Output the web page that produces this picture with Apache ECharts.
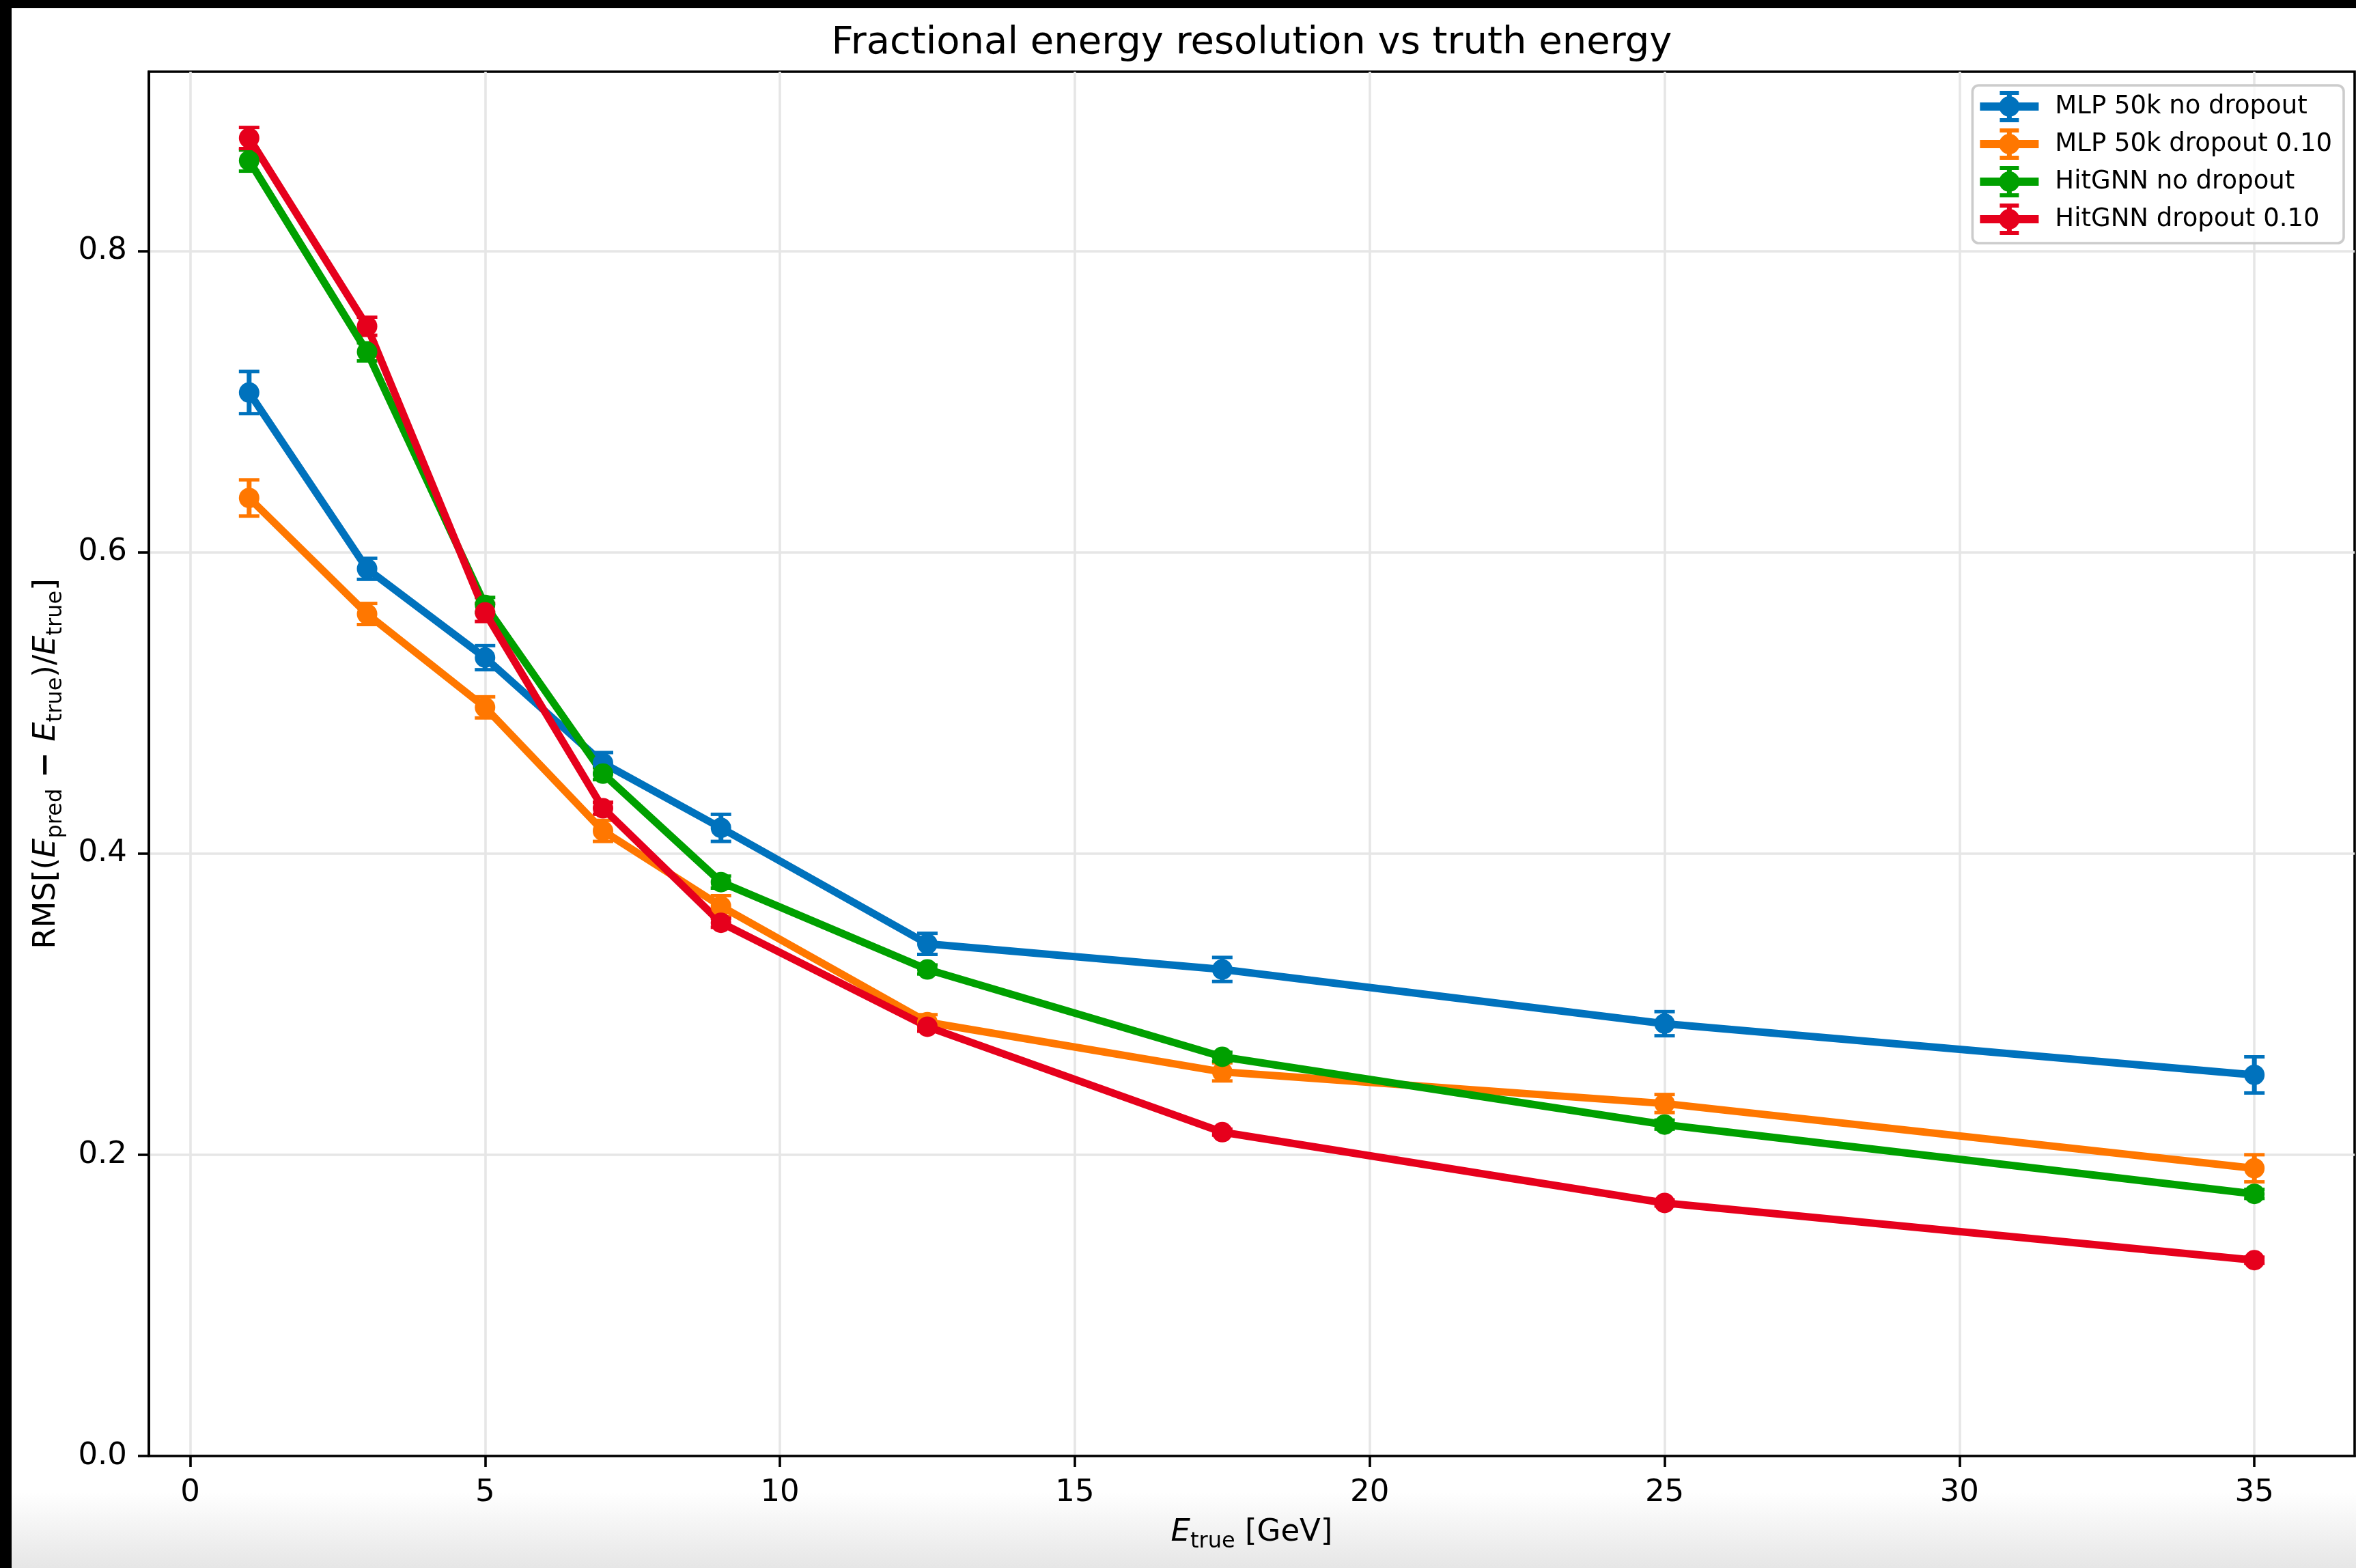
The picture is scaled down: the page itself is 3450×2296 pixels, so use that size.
<!DOCTYPE html>
<html lang="en">
<head>
    <meta charset="UTF-8">
    <title>Fractional energy resolution vs truth energy</title>
    <script src="https://cdn.jsdelivr.net/npm/echarts@6.0.0/dist/echarts.min.js"></script>
    <style>
        html, body { margin: 0; padding: 0; background: #fff; }
        #chart { width: 3450px; height: 2296px; }
    </style>
</head>
<body>
<div id="chart"></div>
<script>
    // truth energy bins (GeV)
    var energies = [1, 3, 5, 7, 9, 12.5, 17.5, 25, 35];

    var seriesNames = ['MLP 50k no dropout', 'MLP 50k dropout 0.10', 'HitGNN no dropout', 'HitGNN dropout 0.10'];
    var seriesColors = ['#0072bd', '#ff7700', '#00a000', '#e6001c'];

    // RMS values
    var mlpNoDrop = [0.706, 0.589, 0.530, 0.460, 0.417, 0.340, 0.323, 0.287, 0.253];
    var mlpDrop   = [0.636, 0.559, 0.497, 0.415, 0.365, 0.288, 0.255, 0.234, 0.191];
    var gnnNoDrop = [0.860, 0.733, 0.565, 0.453, 0.381, 0.323, 0.265, 0.220, 0.174];
    var gnnDrop   = [0.875, 0.750, 0.560, 0.430, 0.354, 0.285, 0.215, 0.168, 0.130];

    // half length of the error bars
    var mlpNoDropErr = [0.014, 0.007, 0.008, 0.007, 0.009, 0.007, 0.008, 0.008, 0.012];
    var mlpDropErr   = [0.012, 0.007, 0.007, 0.007, 0.007, 0.005, 0.006, 0.006, 0.009];
    var gnnNoDropErr = [0.007, 0.006, 0.005, 0.004, 0.004, 0.003, 0.003, 0.003, 0.003];
    var gnnDropErr   = [0.007, 0.006, 0.006, 0.004, 0.003, 0.003, 0.002, 0.002, 0.002];

    var xTicks = [0, 5, 10, 15, 20, 25, 30, 35];
    var yTicks = [0, 0.2, 0.4, 0.6, 0.8];

    var values = [mlpNoDrop, mlpDrop, gnnNoDrop, gnnDrop];
    var errors = [mlpNoDropErr, mlpDropErr, gnnNoDropErr, gnnDropErr];

    var FONT = 'DejaVu Sans';

    // legend handle: line + marker + error bar with caps (86 x 46 box)
    var errIcon = 'path://M0,17h86v12h-86Z' +
        'M28,23A15,15 0 1,1 58,23A15,15 0 1,1 28,23Z' +
        'M39.5,0h7v46h-7Z' +
        'M29,0h28v6h-28Z' +
        'M29,40h28v6h-28Z';

    function errorBarItem(params, api) {
        var x = api.value(0);
        var top = api.coord([x, api.value(2)]);
        var bot = api.coord([x, api.value(1)]);
        var color = api.visual('color');
        var half = 15;
        return {
            type: 'group',
            children: [
                { type: 'line', shape: { x1: top[0], y1: top[1], x2: bot[0], y2: bot[1] },
                  style: { stroke: color, lineWidth: 7 } },
                { type: 'line', shape: { x1: top[0] - half, y1: top[1], x2: top[0] + half, y2: top[1] },
                  style: { stroke: color, lineWidth: 5 } },
                { type: 'line', shape: { x1: bot[0] - half, y1: bot[1], x2: bot[0] + half, y2: bot[1] },
                  style: { stroke: color, lineWidth: 5 } }
            ]
        };
    }

    var series = [];
    for (var s = 0; s < seriesNames.length; s++) {
        var vals = values[s], errs = errors[s];
        series.push({
            name: 'err' + s,
            type: 'custom',
            renderItem: errorBarItem,
            itemStyle: { color: seriesColors[s] },
            encode: { x: 0, y: [1, 2] },
            data: energies.map(function (e, i) { return [e, vals[i] - errs[i], vals[i] + errs[i]]; }),
            silent: true
        });
        series.push({
            name: seriesNames[s],
            type: 'line',
            color: seriesColors[s],
            symbol: 'circle',
            symbolSize: 30,
            showSymbol: true,
            showAllSymbol: true,
            lineStyle: { width: 11, color: seriesColors[s] },
            itemStyle: { color: seriesColors[s], borderWidth: 0 },
            data: energies.map(function (e, i) { return [e, vals[i]]; })
        });
    }

    var subRich = {
        n: { fontFamily: FONT, fontSize: 45, lineHeight: 60, color: '#000' },
        e: { fontFamily: FONT, fontSize: 45, lineHeight: 60, fontStyle: 'italic', color: '#000' },
        sub: { fontFamily: FONT, fontSize: 32, lineHeight: 32, verticalAlign: 'bottom', color: '#000' },
        op: { fontFamily: FONT, fontSize: 45, lineHeight: 60, fontWeight: 'bold', color: '#000' }
    };

    var spine = { show: true, onZero: false, lineStyle: { color: '#000', width: 3.6 } };

    var chart = echarts.init(document.getElementById('chart'));
    var option = {
        animation: false,
        backgroundColor: '#ffffff',
        title: {
            text: 'Fractional energy resolution vs truth energy',
            left: 1833,
            top: 35,
            padding: 0,
            textAlign: 'center',
            textStyle: { fontFamily: FONT, fontSize: 56, fontWeight: 'normal', color: '#000', lineHeight: 56 }
        },
        grid: {
            left: 218, right: 2, top: 105, bottom: 164,
            show: true, borderColor: '#000', borderWidth: 3.6, backgroundColor: '#fff'
        },
        legend: {
            data: seriesNames.map(function (n) { return { name: n, icon: errIcon }; }),
            orient: 'vertical',
            align: 'left',
            right: 18,
            top: 125,
            itemWidth: 86,
            itemHeight: 46,
            itemGap: 9,
            padding: [8, 17, 12, 11],
            backgroundColor: 'rgba(255,255,255,0.8)',
            borderColor: '#cccccc',
            borderWidth: 3.6,
            borderRadius: 9,
            itemStyle: { borderWidth: 0 },
            textStyle: { fontFamily: FONT, fontSize: 37, color: '#000', padding: [0, 0, 0, 19] }
        },
        xAxis: {
            type: 'value',
            min: -0.7,
            max: 36.7,
            name: '{e|E}{sub|true}{n| [GeV]}',
            nameLocation: 'middle',
            nameGap: 82,
            nameTextStyle: { rich: subRich },
            axisLine: spine,
            axisTick: { show: true, length: 16, customValues: xTicks, lineStyle: { color: '#000', width: 3.6 } },
            axisLabel: { customValues: xTicks, margin: 32, fontFamily: FONT, fontSize: 45, color: '#000', lineHeight: 45 },
            splitLine: { show: true, lineStyle: { color: '#e6e6e6', width: 3.6 } }
        },
        yAxis: {
            type: 'value',
            min: 0,
            max: 0.919,
            name: '{n|RMS[(}{e|E}{sub|pred}{op| − }{e|E}{sub|true}{n|)/}{e|E}{sub|true}{n|]}',
            nameLocation: 'middle',
            nameRotate: 90,
            nameGap: 120,
            nameTextStyle: { rich: subRich },
            axisLine: spine,
            axisTick: { show: true, length: 16, customValues: yTicks, lineStyle: { color: '#000', width: 3.6 } },
            axisLabel: {
                customValues: yTicks, margin: 32, fontFamily: FONT, fontSize: 45, color: '#000',
                formatter: function (v) { return v.toFixed(1); }
            },
            splitLine: { show: true, lineStyle: { color: '#e6e6e6', width: 3.6 } }
        },
        graphic: [
            {
                type: 'rect', z: -1, silent: true,
                shape: { x: 0, y: 2185, width: 3450, height: 111 },
                style: {
                    fill: new echarts.graphic.LinearGradient(0, 0, 0, 1, [
                        { offset: 0, color: '#ffffff' },
                        { offset: 1, color: '#e6e6e6' }
                    ])
                }
            },
            { type: 'rect', z: 100, silent: true, shape: { x: 0, y: 0, width: 3450, height: 12 }, style: { fill: '#000' } },
            { type: 'rect', z: 100, silent: true, shape: { x: 0, y: 0, width: 17, height: 2296 }, style: { fill: '#000' } }
        ],
        series: series
    };
    chart.setOption(option);
</script>
</body>
</html>
